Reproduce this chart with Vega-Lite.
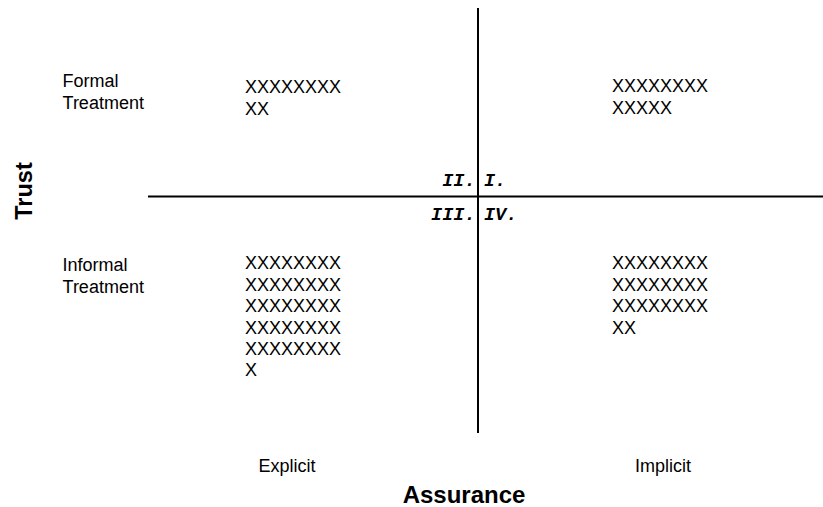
{
  "$schema": "https://vega.github.io/schema/vega-lite/v6.json",
  "width": 823,
  "height": 507,
  "padding": 0,
  "autosize": {"type": "none"},
  "background": "white",
  "config": {"view": {"stroke": null}},
  "datasets": {
    "dividers": [
      {"name": "vertical", "x": 58.08, "x2": 58.08, "y": 98.42, "y2": 14.6},
      {"name": "horizontal", "x": 17.98, "x2": 100, "y": 61.24, "y2": 61.24}
    ],
    "items": [
      {"role": "row", "quadrant": "II", "label": "XXXXXXXX", "x": 29.77, "y": 81.66},
      {"role": "row", "quadrant": "II", "label": "XX", "x": 29.77, "y": 77.32},
      {"role": "row", "quadrant": "I", "label": "XXXXXXXX", "x": 74.36, "y": 81.8},
      {"role": "row", "quadrant": "I", "label": "XXXXX", "x": 74.36, "y": 77.46},
      {"role": "row", "quadrant": "III", "label": "XXXXXXXX", "x": 29.77, "y": 46.94},
      {"role": "row", "quadrant": "III", "label": "XXXXXXXX", "x": 29.77, "y": 42.7},
      {"role": "row", "quadrant": "III", "label": "XXXXXXXX", "x": 29.77, "y": 38.46},
      {"role": "row", "quadrant": "III", "label": "XXXXXXXX", "x": 29.77, "y": 34.22},
      {"role": "row", "quadrant": "III", "label": "XXXXXXXX", "x": 29.77, "y": 29.98},
      {"role": "row", "quadrant": "III", "label": "X", "x": 29.77, "y": 25.74},
      {"role": "row", "quadrant": "IV", "label": "XXXXXXXX", "x": 74.36, "y": 46.94},
      {"role": "row", "quadrant": "IV", "label": "XXXXXXXX", "x": 74.36, "y": 42.7},
      {"role": "row", "quadrant": "IV", "label": "XXXXXXXX", "x": 74.36, "y": 38.46},
      {"role": "row", "quadrant": "IV", "label": "XX", "x": 74.36, "y": 34.22},
      {"role": "row", "quadrant": "", "label": "Formal", "x": 7.6, "y": 82.84},
      {"role": "row", "quadrant": "", "label": "Treatment", "x": 7.6, "y": 78.5},
      {"role": "row", "quadrant": "", "label": "Informal", "x": 7.6, "y": 46.55},
      {"role": "row", "quadrant": "", "label": "Treatment", "x": 7.6, "y": 42.21},
      {"role": "category", "quadrant": "", "label": "Explicit", "x": 34.87, "y": 7.0},
      {"role": "category", "quadrant": "", "label": "Implicit", "x": 80.56, "y": 7.0},
      {"role": "qleft", "quadrant": "II", "label": "II.", "x": 57.78, "y": 63.31},
      {"role": "qleft", "quadrant": "III", "label": "III.", "x": 57.78, "y": 56.61},
      {"role": "qright", "quadrant": "I", "label": "I.", "x": 58.81, "y": 63.31},
      {"role": "qright", "quadrant": "IV", "label": "IV.", "x": 58.81, "y": 56.61},
      {"role": "xtitle", "quadrant": "", "label": "Assurance", "x": 56.38, "y": 0.79},
      {"role": "ytitle", "quadrant": "", "label": "Trust", "x": 3.0, "y": 62.33}
    ]
  },
  "layer": [
    {
      "data": {"name": "dividers"},
      "mark": {"type": "rule", "color": "black", "strokeWidth": 2},
      "encoding": {
        "x": {"field": "x", "type": "quantitative", "scale": {"domain": [0, 100], "nice": false, "zero": false}, "axis": null},
        "x2": {"field": "x2"},
        "y": {"field": "y", "type": "quantitative", "scale": {"domain": [0, 100], "nice": false, "zero": false}, "axis": null},
        "y2": {"field": "y2"}
      }
    },
    {
      "data": {"name": "items"},
      "transform": [{"filter": "datum.role === 'row'"}],
      "mark": {"type": "text", "font": "Liberation Sans", "fontSize": 18, "align": "left", "baseline": "alphabetic", "color": "black"},
      "encoding": {
        "x": {"field": "x", "type": "quantitative", "axis": null},
        "y": {"field": "y", "type": "quantitative", "axis": null},
        "text": {"field": "label"}
      }
    },
    {
      "data": {"name": "items"},
      "transform": [{"filter": "datum.role === 'category'"}],
      "mark": {"type": "text", "font": "Liberation Sans", "fontSize": 18, "align": "center", "baseline": "alphabetic", "color": "black"},
      "encoding": {
        "x": {"field": "x", "type": "quantitative", "axis": null},
        "y": {"field": "y", "type": "quantitative", "axis": null},
        "text": {"field": "label"}
      }
    },
    {
      "data": {"name": "items"},
      "transform": [{"filter": "datum.role === 'qleft'"}],
      "mark": {"type": "text", "font": "Liberation Mono", "fontSize": 18.5, "fontWeight": "bold", "fontStyle": "italic", "align": "right", "baseline": "alphabetic", "color": "black"},
      "encoding": {
        "x": {"field": "x", "type": "quantitative", "axis": null},
        "y": {"field": "y", "type": "quantitative", "axis": null},
        "text": {"field": "label"}
      }
    },
    {
      "data": {"name": "items"},
      "transform": [{"filter": "datum.role === 'qright'"}],
      "mark": {"type": "text", "font": "Liberation Mono", "fontSize": 18.5, "fontWeight": "bold", "fontStyle": "italic", "align": "left", "baseline": "alphabetic", "color": "black"},
      "encoding": {
        "x": {"field": "x", "type": "quantitative", "axis": null},
        "y": {"field": "y", "type": "quantitative", "axis": null},
        "text": {"field": "label"}
      }
    },
    {
      "data": {"name": "items"},
      "transform": [{"filter": "datum.role === 'xtitle'"}],
      "mark": {"type": "text", "font": "Liberation Sans", "fontSize": 24, "fontWeight": "bold", "align": "center", "baseline": "alphabetic", "color": "black"},
      "encoding": {
        "x": {"field": "x", "type": "quantitative", "axis": null},
        "y": {"field": "y", "type": "quantitative", "axis": null},
        "text": {"field": "label"}
      }
    },
    {
      "data": {"name": "items"},
      "transform": [{"filter": "datum.role === 'ytitle'"}],
      "mark": {"type": "text", "font": "Liberation Sans", "fontSize": 23.5, "fontWeight": "bold", "align": "center", "baseline": "middle", "angle": 270, "color": "black"},
      "encoding": {
        "x": {"field": "x", "type": "quantitative", "axis": null},
        "y": {"field": "y", "type": "quantitative", "axis": null},
        "text": {"field": "label"}
      }
    }
  ]
}
